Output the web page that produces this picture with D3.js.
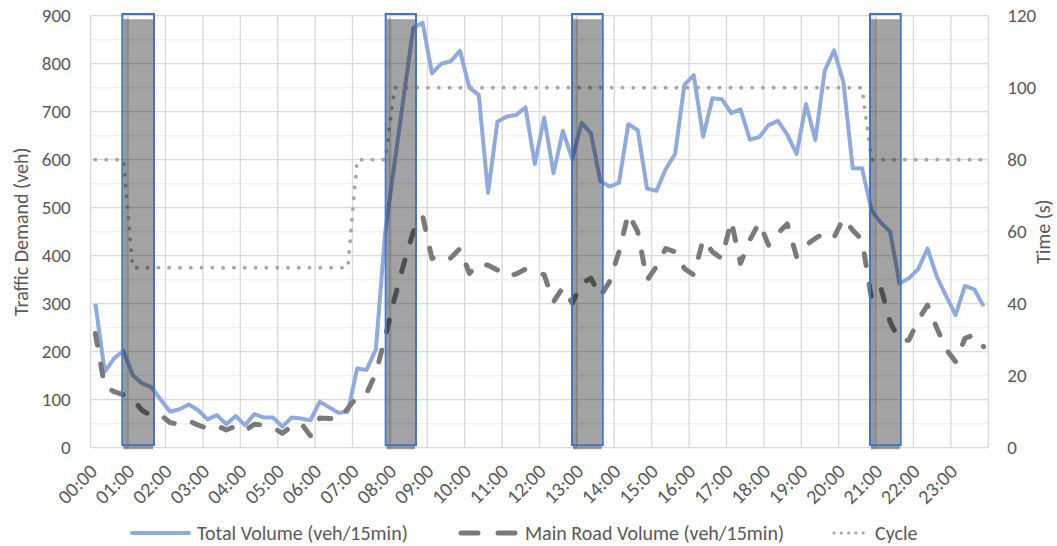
<!DOCTYPE html>
<html><head><meta charset="utf-8">
<script src="https://cdn.jsdelivr.net/npm/d3@7"></script>
<style>
body{margin:0;background:#fff}
svg{display:block}
text{font-family:Carlito, Calibri, Lato, 'Open Sans', sans-serif; fill:#595959}
</style>
</head><body>
<svg id="chart" width="1057" height="546"></svg>
<script>
// ---- data ----
const times = d3.range(96).map(i => String(Math.floor(i / 4)).padStart(2, '0') + ':' + String((i % 4) * 15).padStart(2, '0'));
const tickLabels = times.filter((t, i) => i % 4 === 0);

const totalVolume = [300, 158, 186, 202, 151, 134, 126, 100, 75, 80, 90, 78, 59, 68, 49, 66,
  47, 70, 63, 63, 44, 63, 61, 57, 96, 84, 73, 75, 165, 162, 205, 450,
  593, 735, 875, 885, 780, 800, 805, 827, 750, 735, 531, 679, 690, 693, 709, 591,
  688, 572, 660, 601, 677, 655, 556, 544, 552, 674, 662, 540, 535, 580, 612, 756,
  776, 648, 728, 726, 697, 705, 642, 647, 672, 681, 652, 612, 716, 641, 785, 828,
  762, 582, 582, 495, 469, 450, 342, 353, 372, 415, 356, 316, 276, 337, 330, 295];

const mainRoadVolume = [238, 127, 117, 110, 101, 78, 66, 68, 52, 49, 56, 47, 40, 46, 37, 45,
  35, 49, 47, 42, 30, 45, 51, 25, 62, 61, 59, 82, 106, 113, 155, 231,
  311, 384, 450, 483, 394, 403, 395, 415, 363, 384, 380, 370, 356, 362, 372, 368,
  360, 304, 334, 301, 342, 353, 315, 346, 408, 488, 450, 349, 377, 415, 408, 373,
  360, 434, 408, 394, 473, 384, 433, 469, 422, 447, 466, 398, 422, 436, 448, 438,
  478, 453, 433, 311, 334, 262, 223, 224, 266, 297, 249, 205, 179, 228, 235, 210];

const cycleTime = [80, 80, 80, 80, 50, 50, 50, 50, 50, 50, 50, 50, 50, 50, 50, 50,
  50, 50, 50, 50, 50, 50, 50, 50, 50, 50, 50, 50, 80, 80, 80, 80,
  100, 100, 100, 100, 100, 100, 100, 100, 100, 100, 100, 100, 100, 100, 100, 100,
  100, 100, 100, 100, 100, 100, 100, 100, 100, 100, 100, 100, 100, 100, 100, 100,
  100, 100, 100, 100, 100, 100, 100, 100, 100, 100, 100, 100, 100, 100, 100, 100,
  100, 100, 100, 80, 80, 80, 80, 80, 80, 80, 80, 80, 80, 80, 80, 80];

// transition windows, in 15-minute intervals from 00:00
const windowStart = [3.38, 31.55, 51.48, 83.35];
const windowEnd = [6.77, 34.79, 54.76, 86.63];

const leftTicks = d3.range(0, 901, 100);
const leftMinor = d3.range(50, 900, 100);
const rightTicks = d3.range(0, 121, 20);

const seriesNames = ['Total Volume (veh/15min)', 'Main Road Volume (veh/15min)', 'Cycle'];

// ---- layout ----
const L = 90.7, R = 988.3, T = 15.7, B = 447.7;
const svg = d3.select('#chart');

const x = d3.scaleBand().domain(times).range([L, R]).padding(0);
const xc = t => x(t) + x.bandwidth() / 2;
const xi = d3.scaleLinear().domain([0, 96]).range([L, R]);
const y = d3.scaleLinear().domain([0, 900]).range([B, T]);
const y2 = d3.scaleLinear().domain([0, 120]).range([B, T]);

// gridlines
const grid = svg.append('g');
grid.selectAll('.minor').data(leftMinor).join('line')
  .attr('x1', L).attr('x2', R).attr('y1', d => y(d)).attr('y2', d => y(d))
  .attr('stroke', '#f0f0f0').attr('stroke-width', 1.3);
grid.selectAll('.vg').data(d3.range(0, 97, 4)).join('line')
  .attr('x1', d => xi(d)).attr('x2', d => xi(d)).attr('y1', T).attr('y2', B)
  .attr('stroke', '#d9d9d9').attr('stroke-width', 1.3);
grid.selectAll('.major').data(leftTicks).join('line')
  .attr('x1', L).attr('x2', R).attr('y1', d => y(d)).attr('y2', d => y(d))
  .attr('stroke', '#d9d9d9').attr('stroke-width', 1.3);

// axes
const ax = svg.append('g').attr('transform', `translate(${L},0)`)
  .call(d3.axisLeft(y).tickValues(leftTicks).tickSize(0).tickPadding(20));
const ax2 = svg.append('g').attr('transform', `translate(${R},0)`)
  .call(d3.axisRight(y2).tickValues(rightTicks).tickSize(0).tickPadding(19));
const axb = svg.append('g').attr('transform', `translate(0,${B})`)
  .call(d3.axisBottom(x).tickValues(tickLabels).tickSize(0));
[ax, ax2, axb].forEach(g => {
  g.select('.domain').remove();
  g.selectAll('text').attr('font-size', 19).attr('fill', '#595959').style('font-family', null);
  g.attr('font-family', null);
});
axb.selectAll('text')
  .attr('font-size', 20)
  .attr('y', 0).attr('dy', 0).attr('x', 0)
  .attr('text-anchor', 'end')
  .attr('transform', 'translate(3,25) rotate(-45)');

// axis titles
svg.append('text').attr('transform', `translate(28,${(T + B) / 2}) rotate(-90)`)
  .attr('text-anchor', 'middle').attr('font-size', 20).text('Traffic Demand (veh)');
svg.append('text').attr('transform', `translate(1050,${(T + B) / 2}) rotate(-90)`)
  .attr('text-anchor', 'middle').attr('font-size', 20).text('Time (s)');

// lines
const lineL = d3.line().x((d, i) => xc(times[i])).y(d => y(d));
const lineR = d3.line().x((d, i) => xc(times[i])).y(d => y2(d));

svg.append('path').datum(totalVolume).attr('d', lineL)
  .attr('fill', 'none').attr('stroke', '#8faadc').attr('stroke-width', 4)
  .attr('stroke-linejoin', 'round');
svg.append('path').datum(mainRoadVolume).attr('d', lineL)
  .attr('fill', 'none').attr('stroke', '#7a7a7a').attr('stroke-width', 5)
  .attr('stroke-linecap', 'round').attr('stroke-linejoin', 'round')
  .attr('stroke-dasharray', '12,19');
svg.append('path').datum(cycleTime).attr('d', lineR)
  .attr('fill', 'none').attr('stroke', '#a6a6a6').attr('stroke-width', 3.8)
  .attr('stroke-linecap', 'round').attr('stroke-linejoin', 'round')
  .attr('stroke-dasharray', '0.1,10.7');

// transition windows
const win = svg.append('g');
const wins = windowStart.map((s, i) => ({ s, e: windowEnd[i] }));
win.selectAll('.shade').data(wins).join('rect')
  .attr('x', d => xi(d.s) + 1).attr('width', d => xi(d.e) - xi(d.s) - 2)
  .attr('y', T + 3.5).attr('height', B + 1.5 - (T + 3.5))
  .attr('fill', '#000').attr('fill-opacity', 0.36);
win.selectAll('.strip').data(wins).join('rect')
  .attr('x', d => xi(d.s) + 1).attr('width', 5)
  .attr('y', T + 1.5).attr('height', B + 1.5 - (T + 1.5))
  .attr('fill', '#000').attr('fill-opacity', 0.07);
win.selectAll('.outline').data(wins).join('rect')
  .attr('x', d => xi(d.s)).attr('width', d => xi(d.e) - xi(d.s))
  .attr('y', T - 1.7).attr('height', B - 2.5 - (T - 1.7))
  .attr('fill', 'none').attr('stroke', '#4472c4').attr('stroke-width', 2);

// legend
const lg = svg.append('g');
const ly = 533;
lg.append('line').attr('x1', 132).attr('x2', 189).attr('y1', ly).attr('y2', ly)
  .attr('stroke', '#8faadc').attr('stroke-width', 4).attr('stroke-linecap', 'round');
lg.append('text').attr('x', 197).attr('y', ly + 6.5).attr('font-size', 20).text(seriesNames[0]);
lg.append('line').attr('x1', 461).attr('x2', 516).attr('y1', ly).attr('y2', ly)
  .attr('stroke', '#7a7a7a').attr('stroke-width', 5).attr('stroke-linecap', 'round')
  .attr('stroke-dasharray', '17,20');
lg.append('text').attr('x', 525).attr('y', ly + 6.5).attr('font-size', 20).text(seriesNames[1]);
lg.append('line').attr('x1', 834).attr('x2', 870).attr('y1', ly).attr('y2', ly)
  .attr('stroke', '#a6a6a6').attr('stroke-width', 3).attr('stroke-linecap', 'round')
  .attr('stroke-dasharray', '0.1,7.2');
lg.append('text').attr('x', 875).attr('y', ly + 6.5).attr('font-size', 20).text(seriesNames[2]);
</script>
</body></html>
